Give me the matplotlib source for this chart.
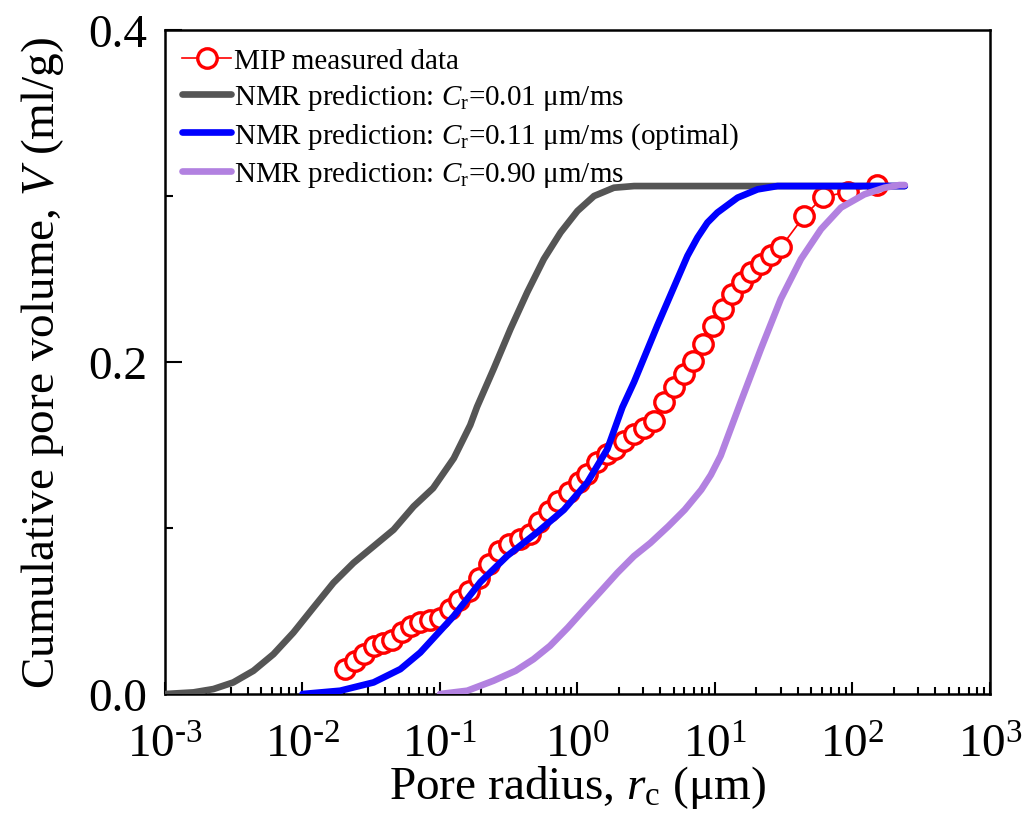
import numpy as np
import matplotlib
matplotlib.use("Agg")
import matplotlib.pyplot as plt

plt.rcParams['font.family'] = ['Liberation Serif', 'DejaVu Serif']
plt.rcParams['mathtext.fontset'] = 'custom'
plt.rcParams['mathtext.rm'] = 'Liberation Serif'
plt.rcParams['mathtext.it'] = 'Liberation Serif:italic'
plt.rcParams['mathtext.bf'] = 'Liberation Serif:bold'

# MIP measured data (pore radius in um, cumulative volume in ml/g)
mip_r = [0.0205, 0.0242, 0.0281, 0.0329, 0.0386, 0.0448, 0.0530, 0.0617, 0.0719, 0.0851,
         0.1007, 0.118, 0.137, 0.162, 0.191, 0.226, 0.268, 0.316, 0.380, 0.450,
         0.524, 0.619, 0.720, 0.865, 1.02, 1.18, 1.39, 1.65, 1.89, 2.18,
         2.58, 3.05, 3.60, 4.26, 5.04, 5.96, 6.97, 8.24, 9.75, 11.5,
         13.4, 15.8, 18.4, 21.6, 25.5, 30.1, 44.6, 60.7, 92.2, 151.0]
mip_v = [0.0151, 0.0201, 0.0241, 0.0291, 0.0307, 0.0327, 0.0372, 0.0411, 0.0432, 0.0446,
         0.0458, 0.0512, 0.0566, 0.0622, 0.0697, 0.0783, 0.0863, 0.0904, 0.0934, 0.0964,
         0.1034, 0.1104, 0.1164, 0.1215, 0.1275, 0.1325, 0.1396, 0.1446, 0.1476, 0.1526,
         0.1566, 0.1601, 0.1646, 0.1757, 0.1848, 0.1928, 0.2008, 0.2108, 0.2219, 0.2319,
         0.2410, 0.2480, 0.2540, 0.2590, 0.2645, 0.2691, 0.2881, 0.2992, 0.3026, 0.3066]

# NMR prediction, Cr = 0.01 um/ms
nmr1_r = [0.001, 0.00161, 0.00225, 0.00314, 0.00440, 0.00615, 0.00859, 0.0120, 0.0168, 0.0235,
          0.0329, 0.0460, 0.0643, 0.0891, 0.126, 0.166, 0.186, 0.246, 0.326, 0.431,
          0.569, 0.753, 1.0, 1.32, 1.84, 2.58, 240.0]
nmr1_v = [0.0, 0.001, 0.003, 0.007, 0.014, 0.024, 0.037, 0.052, 0.067, 0.079,
          0.089, 0.099, 0.113, 0.124, 0.142, 0.162, 0.173, 0.196, 0.220, 0.242,
          0.262, 0.278, 0.291, 0.300, 0.305, 0.306, 0.306]

# NMR prediction, Cr = 0.11 um/ms (optimal)
nmr2_r = [0.01, 0.0188, 0.0329, 0.0515, 0.0719, 0.126, 0.197, 0.309, 0.509, 0.796,
          1.18, 1.65, 2.12, 2.58, 3.81, 5.33, 6.31, 7.46, 8.81, 10.4, 14.6, 20.4, 28.5, 240.0]
nmr2_v = [0.0, 0.002, 0.007, 0.015, 0.025, 0.047, 0.0675, 0.0833, 0.0974, 0.111,
          0.1275, 0.1476, 0.1727, 0.188, 0.222, 0.250, 0.264, 0.275, 0.284, 0.290,
          0.299, 0.304, 0.306, 0.306]

# NMR prediction, Cr = 0.90 um/ms
nmr3_r = [0.1, 0.158, 0.245, 0.355, 0.479, 0.631, 0.851, 1.12, 1.48, 1.95,
          2.57, 3.39, 4.57, 6.03, 7.94, 9.33, 11.0, 15.4, 21.6, 30.1,
          42.2, 59.0, 82.4, 122.0, 171.0, 219.0, 240.0]
nmr3_v = [0.0, 0.002, 0.008, 0.014, 0.021, 0.029, 0.040, 0.051, 0.062, 0.073,
          0.083, 0.091, 0.101, 0.111, 0.123, 0.132, 0.1436, 0.176, 0.208, 0.238,
          0.262, 0.280, 0.293, 0.301, 0.305, 0.3066, 0.3066]

fig = plt.figure(figsize=(10.24, 8.29), dpi=100)
ax = fig.add_axes([0.1611, 0.1616, 0.8057, 0.8010])

ax.plot(mip_r, mip_v, color='red', lw=1.2, marker='o', ms=14, mfc='white',
        mec='red', mew=2.4, label='MIP measured data', zorder=2)
ax.plot(nmr1_r, nmr1_v, color='#555555', lw=4.8, solid_capstyle='round',
        solid_joinstyle='round', label=r'NMR prediction: $C_\mathrm{r}$=0.01 μm/ms', zorder=3)
ax.plot(nmr2_r, nmr2_v, color='#0000FF', lw=4.8, solid_capstyle='round',
        solid_joinstyle='round', label=r'NMR prediction: $C_\mathrm{r}$=0.11 μm/ms (optimal)', zorder=3)
ax.plot(nmr3_r, nmr3_v, color='#B281E0', lw=4.8, solid_capstyle='round',
        solid_joinstyle='round', label=r'NMR prediction: $C_\mathrm{r}$=0.90 μm/ms', zorder=3)

ax.set_xscale('log')
ax.set_xlim(1e-3, 1e3)
ax.set_ylim(0, 0.4)
ax.set_xticks([1e-3, 1e-2, 1e-1, 1e0, 1e1, 1e2, 1e3])
ax.set_xticklabels([r'$10^{\text{-3}}$', r'$10^{\text{-2}}$', r'$10^{\text{-1}}$', r'$10^{0}$',
                    r'$10^{1}$', r'$10^{2}$', r'$10^{3}$'])
ax.xaxis.set_minor_locator(matplotlib.ticker.LogLocator(base=10, subs=np.arange(2, 10), numticks=20))
ax.xaxis.set_minor_formatter(matplotlib.ticker.NullFormatter())
ax.set_yticks([0.0, 0.2, 0.4])
ax.set_yticklabels(['0.0', '0.2', '0.4'])
ax.set_yticks([0.1, 0.3], minor=True)

ax.tick_params(axis='x', which='major', direction='in', length=9, width=1.5,
               labelsize=34, pad=22, top=False)
ax.tick_params(axis='x', which='minor', direction='in', length=5, width=1.5, top=False)
ax.tick_params(axis='y', which='major', direction='in', length=12, width=1.5,
               labelsize=34, pad=13, right=False)
ax.tick_params(axis='y', which='minor', direction='in', length=6, width=1.5, right=False)
for s in ax.spines.values():
    s.set_linewidth(1.8)

ax.set_xlabel(r'Pore radius, $r_\mathrm{c}$ (μm)', fontsize=34, labelpad=-3)
ax.set_ylabel(r'Cumulative pore volume, $V$ (ml/g)', fontsize=34, labelpad=16)

ax.legend(loc='upper left', frameon=False, fontsize=21, handlelength=1.65,
          handletextpad=0.12, labelspacing=0.28, borderaxespad=0.1, borderpad=0.5)

fig.savefig('out.png', dpi=100)
